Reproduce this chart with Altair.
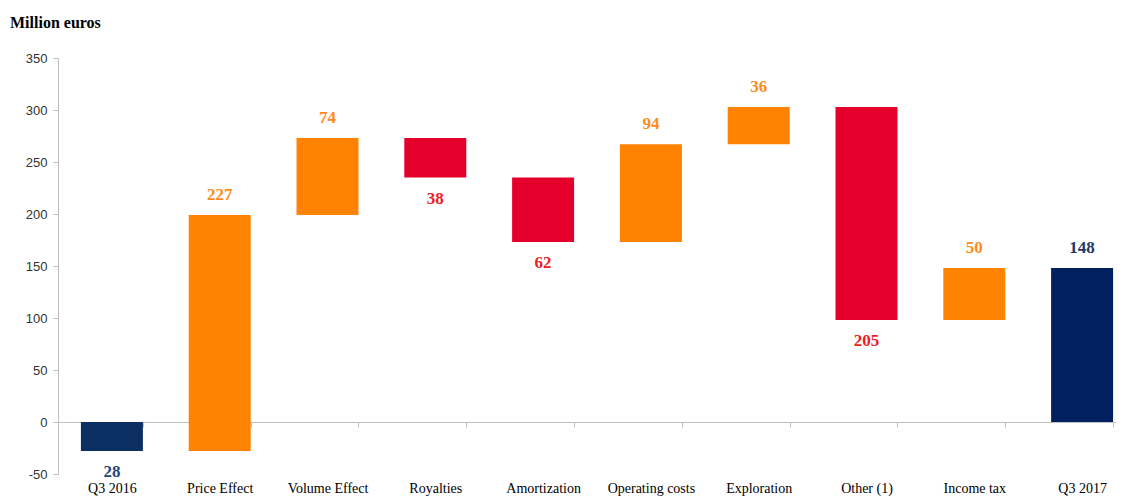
import altair as alt
import pandas as pd

categories = ["Q3 2016", "Price Effect", "Volume Effect", "Royalties", "Amortization",
              "Operating costs", "Exploration", "Other (1)", "Income tax", "Q3 2017"]
deltas = [-28, 227, 74, -38, -62, 94, 36, -205, 50, 148]
kinds = ["total", "delta", "delta", "delta", "delta", "delta", "delta", "delta", "delta", "total"]
labels = ["28", "227", "74", "38", "62", "94", "36", "205", "50", "148"]
y_ticks = [-50, 0, 50, 100, 150, 200, 250, 300, 350]

rows = []
running = 0
for i, (c, d, k, lab) in enumerate(zip(categories, deltas, kinds, labels)):
    if k == "total":
        start, end = 0, d
        running = d
        group = "total_start" if i == 0 else "total_end"
    else:
        start, end = running, running + d
        running = end
        group = "up" if d > 0 else "down"
    rows.append({"cat": c, "start": start, "end": end, "group": group, "label": lab,
                 "top": max(start, end), "bottom": min(start, end),
                 "above": (group in ("up", "total_end"))})
df = pd.DataFrame(rows)

bar_colors = alt.Scale(domain=["total_start", "up", "down", "total_end"],
                       range=["#0B2F62", "#FF8200", "#E4002B", "#002060"])
label_colors = alt.Scale(domain=["total_start", "up", "down", "total_end"],
                         range=["#22467A", "#FF8C1A", "#F21C24", "#1F3868"])

x_enc = alt.X("cat:N", sort=categories, title=None,
              scale=alt.Scale(range=[0, 1078], paddingInner=0.425, paddingOuter=0.2125),
              axis=alt.Axis(orient="bottom", offset=-52, domainColor="#BFBFBF", tickColor="#BFBFBF",
                            tickBand="extent", tickSize=5, labelPadding=61, labelAngle=0, grid=False,
                            labelFont="Liberation Serif", labelFontSize=14, labelColor="#000000",
                            labelBaseline="middle"))
y_scale = alt.Scale(domain=[-50, 350], nice=False, zero=False)

bars = alt.Chart(df).mark_bar().encode(
    x=x_enc,
    y=alt.Y("start:Q", scale=y_scale, title=None,
            axis=alt.Axis(values=y_ticks, grid=False, domainColor="#BFBFBF", tickColor="#BFBFBF",
                          tickSize=5, labelFont="Liberation Sans", labelFontSize=13,
                          labelExpr="replace(datum.label, '\u2212', '-')",
                          labelColor="#333333", labelPadding=6)),
    y2="end:Q",
    color=alt.Color("group:N", scale=bar_colors, legend=None),
)

text_style = dict(font="Liberation Serif", fontSize=17, fontWeight="bold", align="center")

above = alt.Chart(df).transform_filter("datum.above").mark_text(baseline="bottom", dy=-11, **text_style).encode(
    x=alt.X("cat:N", sort=categories),
    y=alt.Y("top:Q", scale=y_scale),
    text="label:N",
    color=alt.Color("group:N", scale=label_colors, legend=None),
)
below = alt.Chart(df).transform_filter("!datum.above").mark_text(baseline="top", dy=13, **text_style).encode(
    x=alt.X("cat:N", sort=categories),
    y=alt.Y("bottom:Q", scale=y_scale),
    text="label:N",
    color=alt.Color("group:N", scale=label_colors, legend=None),
)

title = alt.Chart(pd.DataFrame({"t": ["Million euros"]})).mark_text(
    font="Liberation Serif", fontSize=16, fontWeight="bold", align="left", baseline="middle", color="#000000"
).encode(x=alt.value(-48), y=alt.value(-35), text="t:N")

chart = alt.layer(bars, above, below, title).resolve_scale(color="independent").properties(
    width=1058, height=416,
    background="white",
    autosize=alt.AutoSizeParams(type="none"),
    padding={"left": 50, "top": 50, "right": 0, "bottom": 24},
).configure_view(stroke=None).configure_axis(grid=False)

chart.save("out.html", embed_options={"renderer": "svg", "actions": False})
